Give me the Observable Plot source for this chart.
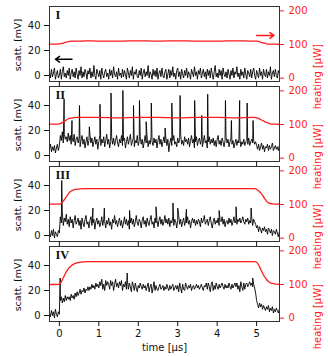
<!DOCTYPE html>
<html><head><meta charset="utf-8">
<script src="https://cdn.jsdelivr.net/npm/d3@7"></script>
<script src="https://cdn.jsdelivr.net/npm/@observablehq/plot@0.6"></script>
<style>
body{margin:0;background:#fff;}
#chart{position:relative;width:328px;height:357px;}
#chart svg{position:absolute;left:0;overflow:visible;}
#chart .ylab{position:absolute;left:18px;transform:translate(-50%,-50%) rotate(-90deg);font:9.5px "DejaVu Sans";color:#111;white-space:nowrap;line-height:1;}
</style></head><body><div id="chart"></div>
<script>
// sampling of the scattering traces (µs)
const t0 = -0.25, dt = 0.025;
const panels = ["I","II","III","IV"];

const scatI = [3,-2,5,-1,2,6,-3,1,4,-2,
 0,5,-3,3,7,-1,2,-2,4,0,
 6,-3,2,5,-1,3,-2,6,1,-3,
 4,0,7,-2,3,-1,5,2,-3,4,
 1,6,-2,3,-1,8,0,-3,5,2,
 -1,4,-3,6,1,-2,3,5,-1,2,
 -3,5,0,4,-2,7,1,-1,3,-3,
 6,0,2,-2,5,-1,4,1,-3,6,
 2,-2,4,0,7,-3,3,1,5,-1,
 -2,4,0,6,-3,2,5,-1,3,0,
 8,-2,3,1,-3,5,0,4,-1,6,
 -3,2,4,-1,6,0,-2,3,5,-3,
 1,5,-2,4,0,7,-1,2,-3,4,
 6,-1,3,-3,5,1,-2,4,0,6,
 -2,3,1,-3,5,2,-1,7,0,3,
 -3,4,1,6,-2,2,5,-1,3,-3,
 5,0,4,-2,6,1,-3,3,8,-1,
 2,-2,5,0,4,-3,6,1,-1,3,
 -2,5,1,-3,4,0,6,-2,3,1,
 7,-1,2,-3,5,0,3,-2,6,1,
 -3,4,2,-1,5,-2,3,6,0,-3,
 4,1,-2,6,0,3,-3,5,1,-1,
 5,-2,3,0,7,-3,2,4,-1,5,
 0,-2,4,1];
const scatII = [5,9,3,7,4,8,2,6,9,4,
 8,16,12,19,10,17,13,15,11,18,
 12,16,9,14,11,17,8,13,15,10,
 14,7,12,16,9,13,6,11,15,8,
 12,17,10,14,7,11,15,9,13,5,
 11,16,8,13,10,15,7,12,17,9,
 13,6,11,15,9,14,8,12,16,10,
 7,13,10,16,8,12,14,6,11,15,
 9,13,17,8,11,14,7,12,10,16,
 8,12,15,9,13,6,11,16,10,14,
 7,12,9,15,11,8,14,10,13,6,
 12,16,9,13,7,11,15,10,14,8,
 13,3,10,14,8,12,16,9,11,7,
 14,10,13,17,9,12,8,15,11,13,
 9,14,7,12,16,10,13,6,11,15,
 8,12,14,9,13,7,11,16,10,12,
 6,11,15,9,13,10,14,8,12,7,
 13,16,9,12,8,14,11,7,12,15,
 10,13,7,11,14,9,12,6,10,13,
 8,12,10,14,7,11,9,13,8,11,
 12,9,14,8,11,13,10,12,9,11,
 8,5,9,4,7,10,5,8,3,7,
 6,9,4,8,5,7,10,4,6,8,
 5,7,4,8];
const scatIII = [2,-1,4,0,5,-2,3,1,-1,4,
 2,15,10,18,8,14,11,17,9,13,
 7,15,10,13,6,12,16,9,11,14,
 8,12,5,14,10,7,13,16,9,11,
 6,12,15,8,10,13,5,11,14,9,
 12,7,10,15,8,13,11,6,12,9,
 14,8,11,5,13,10,16,9,12,7,
 11,14,8,12,6,10,15,9,13,8,
 12,5,10,14,9,13,7,11,16,10,
 8,13,11,6,12,15,9,12,7,14,
 10,8,13,16,9,11,6,14,10,12,
 7,12,15,9,13,8,11,16,10,13,
 9,14,7,12,10,15,8,13,11,6,
 12,16,9,13,7,11,14,8,12,10,
 15,9,12,6,11,14,10,13,8,12,
 9,13,11,7,14,10,12,16,9,11,
 13,8,12,15,10,6,11,14,9,12,
 10,14,8,12,11,15,9,13,7,11,
 12,9,14,10,13,8,11,15,10,12,
 9,13,11,14,10,12,15,11,9,13,
 11,14,9,12,10,15,8,13,11,9,
 6,8,3,7,5,2,6,4,7,3,
 5,1,6,4,2,5,0,4,3,1,
 5,2,-1,3];
const scatIV = [2,-1,4,0,3,-2,5,1,-1,3,
 1,12,15,10,14,11,16,12,15,13,
 15,12,17,14,16,13,18,15,19,16,
 18,21,17,20,19,22,18,21,20,23,
 20,23,21,25,22,24,21,26,23,25,
 22,27,24,29,21,25,20,28,24,27,
 25,21,28,24,27,20,25,29,23,26,
 22,27,24,28,20,25,23,27,21,28,
 21,26,23,19,27,24,20,26,22,19,
 24,22,26,23,21,25,22,24,20,23,
 26,19,23,25,18,22,27,20,24,21,
 20,23,25,21,22,24,20,23,21,25,
 22,20,24,21,23,25,20,22,24,21,
 24,19,26,22,18,25,21,20,26,23,
 21,24,22,25,20,23,24,21,23,25,
 22,24,21,23,25,22,20,24,23,26,
 21,26,23,19,25,27,20,24,21,26,
 23,21,25,22,24,26,23,21,25,22,
 24,22,26,23,21,25,22,24,26,23,
 26,21,24,19,27,23,20,26,21,25,
 26,23,25,27,24,26,23,25,22,18,
 12,9,6,10,7,9,5,8,6,4,
 7,5,8,3,6,4,7,2,5,3,
 6,4,2,5];

// isolated spikes [time µs, mV]
const spikesI = [];
const spikesII = [[0.12,45],[0.32,28],[0.51,40],[0.76,23],[1.03,41],[1.31,50],[1.61,52],[1.88,40],[2.03,44],[2.2,27],[2.33,42],[2.68,22],[2.85,42],[3.06,48],[3.43,44],[3.61,32],[3.76,49],[4.21,44],[4.36,28],[4.57,44],[4.76,42],[4.91,28]];
const spikesIII = [[0.06,44],[0.85,22],[1.14,22],[1.78,20],[2.45,23],[2.88,26],[3.0,22],[3.22,21],[4.05,20],[4.48,23],[4.86,22]];
const spikesIV = [[0.02,30],[1.72,34],[4.9,30]];

// heating traces (µW)
const heatT = [-0.25,-0.1,0,0.05,0.1,0.15,0.2,0.25,0.3,0.35,0.4,0.5,0.6,0.7,1.0,1.5,2.0,2.5,3.0,3.5,4.0,4.5,4.9,4.95,5.0,5.05,5.1,5.15,5.2,5.25,5.3,5.35,5.4,5.5,5.58];
const heatI   = [101,101,102,103,104,106,108,109,110,110,110,110,110,111,110,110,111,110,111,110,110,111,110,110,110,109,107,105,104,102,101,101,101,101,100];
const heatII  = [101,101,102,104,107,111,115,118,119,120,121,121,121,121,121,120,121,121,120,121,121,120,121,121,120,118,115,112,109,106,104,102,101,101,100];
const heatIII = [101,101,101,104,110,118,127,135,140,143,145,146,147,147,147,147,147,147,147,147,147,147,147,147,145,141,135,128,118,110,105,103,102,101,101];
const heatIV  = [100,100,101,108,120,132,142,150,156,160,163,166,167,168,168,168,168,168,168,168,168,168,168,168,166,158,146,134,123,115,109,105,103,101,100];

const xTicks = [0,1,2,3,4,5];
const scattTicks = [0,20,40];
const heatTicks = [0,100,200];
const xDomain = [-0.25, 5.58];
const scattDomain = [-4.8, 55.2];
const heatDomain = [-10, 213];
const scattLabel = "scatt. [mV]", heatLabel = "heating [µW]", timeLabel = "time [µs]";

// panel I direction arrows
const arrowScattX = [0.32, -0.1], arrowScattY = 13;
const arrowHeatX = [5.0, 5.44], arrowHeatY = 127;

const scats = [scatI, scatII, scatIII, scatIV];
const spikes = [spikesI, spikesII, spikesIII, spikesIV];
const heats = [heatI, heatII, heatIII, heatIV];
const toScatt = d3.scaleLinear().domain(heatDomain).range(scattDomain);

const pad = 20; // extra invisible room around each svg
const chart = document.getElementById("chart");
for (let k = 0; k < 4; k++) {
  const last = k === 3;
  const pts = scats[k].map((v, i) => ({t: t0 + i * dt, v}))
    .concat(spikes[k].map(([t, v]) => ({t, v})))
    .sort((a, b) => a.t - b.t);
  const heat = heatT.map((t, i) => ({t, v: toScatt(heats[k][i])}));
  const marks = [
    Plot.line(pts, {x: "t", y: "v", stroke: "black", strokeWidth: 0.9}),
    Plot.line(heat, {x: "t", y: "v", stroke: "#ff1a1a", strokeWidth: 1.3, curve: "monotone-x"}),
    Plot.frame({stroke: "#333"}),
    Plot.axisY(scattTicks, {anchor: "left", tickSize: 5, tickPadding: 4, label: null}),
    Plot.axisY(heatTicks.map(toScatt), {anchor: "right", color: "#ff1a1a", tickSize: 4, tickPadding: 5,
      tickFormat: d => String(Math.round(toScatt.invert(d))), label: null}),
    Plot.axisX(xTicks, {anchor: "bottom", tickSize: 5, tickPadding: 3,
      tickFormat: last ? (d => String(d)) : (() => ""), label: null}),
    Plot.text([panels[k]], {frameAnchor: "top-left", dx: 6, dy: 3.5, lineAnchor: "top", textAnchor: "start",
      fontFamily: "Liberation Serif", fontWeight: "bold", fontSize: 12.5}),
    Plot.text([heatLabel], {frameAnchor: "right", dx: 38, rotate: -90, fill: "#ff1a1a", fontSize: 10})
  ];
  if (k === 0) {
    marks.push(Plot.arrow([0], {x1: () => arrowScattX[0], x2: () => arrowScattX[1], y1: () => arrowScattY, y2: () => arrowScattY,
      stroke: "black", strokeWidth: 1.5, headLength: 5, headAngle: 70}));
    marks.push(Plot.arrow([0], {x1: () => arrowHeatX[0], x2: () => arrowHeatX[1], y1: () => toScatt(arrowHeatY), y2: () => toScatt(arrowHeatY),
      stroke: "#ff1a1a", strokeWidth: 1.5, headLength: 5, headAngle: 70}));
  }
  if (last) {
    marks.push(Plot.text([timeLabel], {frameAnchor: "bottom", dy: 29, fontSize: 10}));
  }
  const svg = Plot.plot({
    width: 328,
    height: (last ? 117 : 81) + pad,
    marginTop: 6 + pad,
    marginBottom: last ? 36 : 0,
    marginLeft: 49,
    marginRight: 49,
    x: {domain: xDomain},
    y: {domain: scattDomain},
    style: {background: "transparent", overflow: "visible", fontFamily: "DejaVu Sans", fontSize: "10px", color: "#111"},
    marks
  });
  svg.style.top = (80 * k - pad) + "px";
  chart.appendChild(svg);
  const lab = document.createElement("div");
  lab.className = "ylab";
  lab.textContent = scattLabel;
  lab.style.top = (80 * k + 6 + 38.5) + "px";
  chart.appendChild(lab);
}
</script></body></html>
